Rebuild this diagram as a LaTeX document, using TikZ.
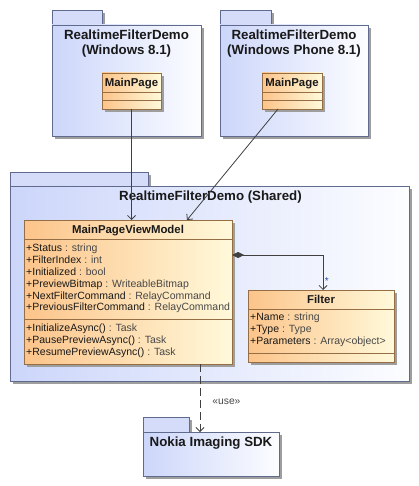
\documentclass[tikz,border=0pt]{standalone}
\usepackage{fontspec}
\setmainfont{Liberation Sans}
\usetikzlibrary{arrows.meta,shadows,calc}
\definecolor{pkgline}{RGB}{96,106,140}
\definecolor{pkgA}{RGB}{204,214,250}
\definecolor{pkgB}{RGB}{252,253,255}
\definecolor{tabfill}{RGB}{212,220,250}
\definecolor{clsline}{RGB}{150,110,70}
\definecolor{clsA}{RGB}{252,196,138}
\definecolor{clsB}{RGB}{255,249,218}
\definecolor{conn}{RGB}{64,64,64}
\definecolor{typec}{RGB}{72,72,72}
\definecolor{multc}{RGB}{40,80,160}
\tikzset{
  shad/.style={drop shadow={shadow xshift=3pt,shadow yshift=-3pt,fill=black!38,opacity=1}},
  pkgbody/.style={draw=pkgline,line width=0.9pt,left color=pkgA,right color=pkgB,shad,inner sep=0,outer sep=0,anchor=north west},
  pkgtab/.style={draw=pkgline,line width=0.9pt,fill=tabfill,shad,inner sep=0,outer sep=0,anchor=north west},
  cls/.style={draw=clsline,line width=0.9pt,left color=clsA,right color=clsB,shad,inner sep=0,outer sep=0,anchor=north west},
  sep/.style={draw=clsline,line width=0.9pt},
  pkgtitle/.style={font=\fontsize{13.3}{15}\selectfont\bfseries,inner sep=0,anchor=base,text=black!90},
  clsname/.style={font=\fontsize{11.4}{13}\selectfont\bfseries,inner sep=0,anchor=base,text=black!90},
  attr/.style={font=\fontsize{10.5}{12}\selectfont,inner sep=0,anchor=base west,text=black!90},
  assoc/.style={draw=conn,line width=0.8pt,-{Straight Barb[length=4pt,width=8pt]}},
  comp/.style={draw=conn,line width=0.8pt,{Diamond[length=12pt,width=6pt,fill=conn]}-{Straight Barb[length=4pt,width=8pt]}},
  dep/.style={draw=conn,line width=0.8pt,dash pattern=on 8pt off 4pt,-{Straight Barb[length=4pt,width=8pt]}},
}
\begin{document}
\begin{tikzpicture}[x=1pt,y=-1pt]
\fill[white] (0,0) rectangle (419,486);
\useasboundingbox (0,0) rectangle (419,486);

% package Windows 8.1
\node[pkgtab,minimum width=50pt,minimum height=15pt] (pkAtab) at (52,10) {};
\node[pkgbody,minimum width=149pt,minimum height=111pt] (pkA) at (52,25) {};
\node[pkgtitle] (pkAt1) at (126.5,39.8) {RealtimeFilterDemo};
\node[pkgtitle] (pkAt2) at (126.5,54.8) {(Windows 8.1)};

% package Windows Phone 8.1
\node[pkgtab,minimum width=51pt,minimum height=15pt] (pkBtab) at (220,10) {};
\node[pkgbody,minimum width=148pt,minimum height=111pt] (pkB) at (220,25) {};
\node[pkgtitle] (pkBt1) at (294,39.8) {RealtimeFilterDemo};
\node[pkgtitle] (pkBt2) at (294,54.8) {(Windows Phone 8.1)};

% package Shared
\node[pkgtab,minimum width=138pt,minimum height=14pt] (shtab) at (10,172) {};
\node[pkgbody,minimum width=399pt,minimum height=195pt] (sh) at (10,186) {};
\node[pkgtitle] (shT) at (210.5,200.8) {RealtimeFilterDemo (Shared)};

% package Nokia
\node[pkgtab,minimum width=46pt,minimum height=15pt] (nktab) at (143,417) {};
\node[pkgbody,minimum width=136pt,minimum height=44pt] (nk) at (143,432) {};
\node[pkgtitle] (nkT) at (211,446.8) {Nokia Imaging SDK};

% MainPage A
\node[cls,minimum width=59pt,minimum height=36pt] (mpA) at (102,73) {};
\node[clsname] (mpAn) at (131.5,86.5) {MainPage};
\draw[sep] ($(mpA.north west)+(0,19)$) -- ($(mpA.north east)+(0,19)$);
\draw[sep] ($(mpA.north west)+(0,27)$) -- ($(mpA.north east)+(0,27)$);

% MainPage B
\node[cls,minimum width=60pt,minimum height=36pt] (mpB) at (262,73) {};
\node[clsname] (mpBn) at (292,86.5) {MainPage};
\draw[sep] ($(mpB.north west)+(0,19)$) -- ($(mpB.north east)+(0,19)$);
\draw[sep] ($(mpB.north west)+(0,27)$) -- ($(mpB.north east)+(0,27)$);

% MainPageViewModel
\node[cls,minimum width=208pt,minimum height=144pt] (mvm) at (24,220) {};
\node[clsname] (mvmn) at (128,233.7) {MainPageViewModel};
\draw[sep] ($(mvm.north west)+(0,19)$) -- ($(mvm.north east)+(0,19)$);
\draw[sep] ($(mvm.north west)+(0,99)$) -- ($(mvm.north east)+(0,99)$);
\foreach \nm/\ty [count=\i] in {Status/string, FilterIndex/int, Initialized/bool, PreviewBitmap/WriteableBitmap, NextFilterCommand/RelayCommand, PreviousFilterCommand/RelayCommand}
  \node[attr] (mvma\i) at (26,{251.8+11.8*(\i-1)}) {+\nm\ {\color{typec}: \ty}};
\foreach \nm/\ty [count=\i] in {InitializeAsync()/Task, PausePreviewAsync()/Task, ResumePreviewAsync()/Task}
  \node[attr] (mvmo\i) at (26,{331.8+11.8*(\i-1)}) {+\nm\ {\color{typec}: \ty}};

% Filter
\node[cls,minimum width=146pt,minimum height=72pt] (flt) at (248,290) {};
\node[clsname] (fltn) at (321,303.3) {Filter};
\draw[sep] ($(flt.north west)+(0,19)$) -- ($(flt.north east)+(0,19)$);
\draw[sep] ($(flt.north west)+(0,63)$) -- ($(flt.north east)+(0,63)$);
\foreach \nm/\ty [count=\i] in {Name/string, Type/Type, Parameters/Array<object>}
  \node[attr] (flta\i) at (250,{320.5+12*(\i-1)}) {+\nm\ {\color{typec}: \ty}};

% connectors
\draw[assoc] (mpA.south) -- (mpA.south |- mvm.north);
\draw[assoc] ([xshift=-14pt]mpB.south) -- ([xshift=59pt]mvm.north);
\draw[comp] ([yshift=-35pt]mvm.north east) -| ([xshift=2pt]flt.north)
  node[pos=0.87,anchor=west,inner sep=1.5pt,font=\fontsize{10}{12}\selectfont,text=multc] (mult) {*};
\coordinate (ds) at ([xshift=72pt]mvm.south);
\draw[dep] (ds) -- (ds |- nk.north)
  node[pos=0.56,anchor=west,xshift=12pt,inner sep=0,font=\fontsize{10.3}{12}\selectfont,text=typec] (use) {«use»};
\end{tikzpicture}
\end{document}
